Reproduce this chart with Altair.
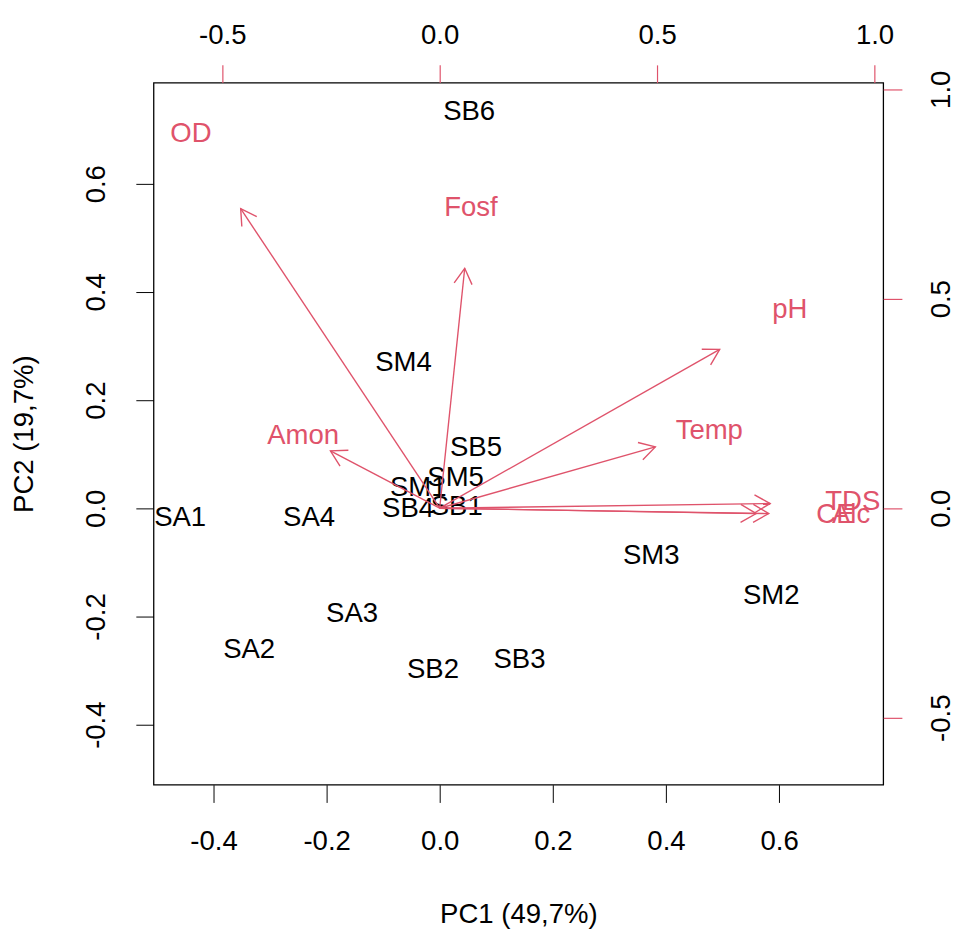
import math
import altair as alt
import pandas as pd

# Observations (scores)
obs_names = ["SA1", "SA2", "SA3", "SA4", "SB1", "SB2", "SB3", "SB4", "SB5", "SB6",
             "SM1", "SM2", "SM3", "SM4", "SM5"]
obs_pc1 = [-0.459, -0.337, -0.155, -0.231, 0.030, -0.012, 0.141, -0.056, 0.064, 0.052,
           -0.038, 0.586, 0.374, -0.064, 0.028]
obs_pc2 = [-0.018, -0.262, -0.196, -0.018, 0.002, -0.300, -0.280, -0.002, 0.111, 0.733,
           0.038, -0.162, -0.089, 0.269, 0.056]

# Variables (loadings)
var_names = ["OD", "Fosf", "pH", "Temp", "Amon", "TDS", "CE", "Alc"]
var_pc1 = [-0.572, 0.072, 0.805, 0.620, -0.314, 0.950, 0.910, 0.946]
var_pc2 = [0.894, 0.716, 0.474, 0.183, 0.171, 0.014, -0.016, -0.016]

obs_ticks = [-0.4, -0.2, 0.0, 0.2, 0.4, 0.6]
var_ticks = [-0.5, 0.0, 0.5, 1.0]

x1_dom = [-0.506, 0.784]
y1_dom = [-0.511, 0.787]
x2_dom = [-0.658, 1.020]
y2_dom = [-0.660, 1.016]

W, H = 742, 714
RED = "#DF536B"
FONT = "Liberation Sans"
FS = 28

sx = W / (x2_dom[1] - x2_dom[0])
sy = H / (y2_dom[1] - y2_dom[0])

obs = pd.DataFrame({"name": obs_names, "pc1": obs_pc1, "pc2": obs_pc2})
var = pd.DataFrame({"name": var_names, "pc1": var_pc1, "pc2": var_pc2})
var["x0"] = 0.0
var["y0"] = 0.0
var["xe"] = var["pc1"] * 0.8
var["ye"] = var["pc2"] * 0.8
var["ang"] = [(math.degrees(math.atan2(-ye * sy, xe * sx))) % 360
              for xe, ye in zip(var["xe"], var["ye"])]

minus_fix = "replace(datum.label, '\u2212', '-')"

x1 = alt.X("pc1:Q", scale=alt.Scale(domain=x1_dom, nice=False, zero=False),
           axis=alt.Axis(values=obs_ticks, format=".1f", labelExpr=minus_fix,
                         title="PC1 (49,7%)", tickSize=18, labelPadding=26,
                         titlePadding=46, domain=False, grid=False,
                         tickColor="black", labelFlush=False, labelOverlap=False))
y1 = alt.Y("pc2:Q", scale=alt.Scale(domain=y1_dom, nice=False, zero=False),
           axis=alt.Axis(values=obs_ticks, format=".1f", labelExpr=minus_fix,
                         title="PC2 (19,7%)", tickSize=18, labelPadding=26,
                         titlePadding=45, labelAngle=270, domain=False, grid=False,
                         tickColor="black", labelFlush=False, labelOverlap=False))

obs_layer = alt.Chart(obs).mark_text(font=FONT, fontSize=FS, color="black",
                                     align="center", baseline="middle").encode(
    x=x1, y=y1, text="name:N")

x2_axis = alt.Axis(values=var_ticks, format=".1f", labelExpr=minus_fix, orient="top",
                   title=None, tickSize=18, labelPadding=16, domain=False, grid=False,
                   tickColor=RED, tickWidth=1.2, labelFlush=False, labelOverlap=False)
y2_axis = alt.Axis(values=var_ticks, format=".1f", labelExpr=minus_fix, orient="right",
                   title=None, tickSize=19, labelPadding=26, labelAngle=270,
                   domain=False, grid=False, tickColor=RED, tickWidth=1.2,
                   labelFlush=False, labelOverlap=False)
x2_scale = alt.Scale(domain=x2_dom, nice=False, zero=False)
y2_scale = alt.Scale(domain=y2_dom, nice=False, zero=False)

base_v = alt.Chart(var)
shafts = base_v.mark_rule(color=RED, strokeWidth=1.4).encode(
    x=alt.X("x0:Q", scale=x2_scale, axis=x2_axis),
    y=alt.Y("y0:Q", scale=y2_scale, axis=y2_axis),
    x2="xe:Q", y2="ye:Q")
heads = base_v.mark_point(shape="M -1 -0.577 L 0 0 L -1 0.577", filled=False,
                          color=RED, strokeWidth=1.4, size=1000, opacity=1).encode(
    x=alt.X("xe:Q", scale=x2_scale, axis=x2_axis),
    y=alt.Y("ye:Q", scale=y2_scale, axis=y2_axis),
    angle=alt.Angle("ang:Q", scale=None))
vlabels = base_v.mark_text(font=FONT, fontSize=FS, color=RED,
                           align="center", baseline="middle").encode(
    x=alt.X("pc1:Q", scale=x2_scale, axis=x2_axis),
    y=alt.Y("pc2:Q", scale=y2_scale, axis=y2_axis),
    text="name:N")

var_layer = alt.layer(shafts, heads, vlabels)

chart = alt.layer(obs_layer, var_layer).resolve_scale(
    x="independent", y="independent").properties(
    width=W, height=H, background="white",
    padding={"left": 2, "top": 6, "right": 0, "bottom": 0}
).configure(
    view=alt.ViewConfig(stroke="black", strokeWidth=1.3),
    axis=alt.AxisConfig(labelFont=FONT, labelFontSize=FS, labelColor="black",
                        titleFont=FONT, titleFontSize=FS, titleFontWeight="normal",
                        titleColor="black"),
)

chart.save("out.html", embed_options={"renderer": "svg", "actions": False})
